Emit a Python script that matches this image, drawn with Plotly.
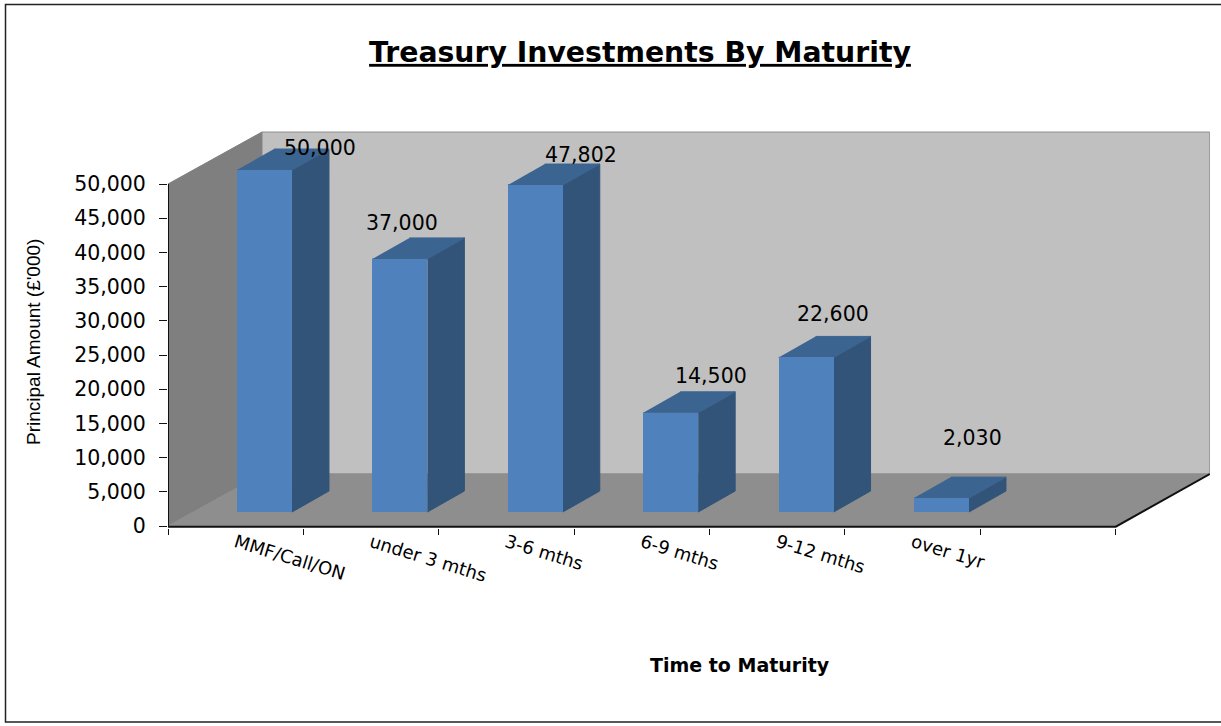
import plotly.graph_objects as go

categories = ["MMF/Call/ON", "under 3 mths", "3-6 mths", "6-9 mths", "9-12 mths", "over 1yr"]
principal = [50000, 37000, 47802, 14500, 22600, 2030]
y_ticks = [0, 5000, 10000, 15000, 20000, 25000, 30000, 35000, 40000, 45000, 50000]

# hand-placed data label offsets (category units / value units)
label_dx = [0.41, 0.015, 0.34, 0.30, 0.20, 0.23]
label_dy = [3150, 5260, 4380, 5410, 6290, 8770]

X_RANGE = [-0.5, 7.196]
Y_RANGE = [-292, 57895]
BAR_W = 0.406
BAR_OFF = 0.01
BAR_BASE = 2047
BAR_DX, BAR_DY = 0.273, 3070
WALL_DX, WALL_DY = 0.694, 7600
WALL_TOP = 50000
LAST = 6.5
FIRST = -0.5

FONT = "DejaVu Sans"
fig = go.Figure()


def poly(xs, ys, color, line=None):
    fig.add_trace(go.Scatter(x=xs, y=ys, mode="lines", fill="toself", fillcolor=color,
                             line=dict(color=line or color, width=1), hoverinfo="skip",
                             showlegend=False, xaxis="x", yaxis="y", cliponaxis=False))


# back wall, left wall, floor
poly([FIRST + WALL_DX, LAST + WALL_DX, LAST + WALL_DX, FIRST + WALL_DX],
     [WALL_DY, WALL_DY, WALL_TOP + WALL_DY, WALL_TOP + WALL_DY], "#C0C0C0", "#8E8E8E")
poly([FIRST, FIRST + WALL_DX, FIRST + WALL_DX, FIRST],
     [0, WALL_DY, WALL_TOP + WALL_DY, WALL_TOP], "#7F7F7F")
poly([FIRST, FIRST + WALL_DX, LAST + WALL_DX, LAST],
     [0, WALL_DY, WALL_DY, 0], "#8E8E8E")

# bar side and top faces, derived from the values
for i, v in enumerate(principal):
    x0 = i + BAR_OFF
    x1 = x0 + BAR_W
    top = BAR_BASE + v
    poly([x1, x1 + BAR_DX, x1 + BAR_DX, x1],
         [BAR_BASE, BAR_BASE + BAR_DY, top + BAR_DY, top], "#325479")
    poly([x0, x1, x1 + BAR_DX, x0 + BAR_DX],
         [top, top, top + BAR_DY, top + BAR_DY], "#3C6491")

# axis lines
fig.add_trace(go.Scatter(x=[FIRST, FIRST], y=[0, WALL_TOP], mode="lines",
                         line=dict(color="#111111", width=2), hoverinfo="skip",
                         showlegend=False, cliponaxis=False))
fig.add_trace(go.Scatter(x=[FIRST, LAST, LAST + WALL_DX], y=[-100, -100, WALL_DY], mode="lines",
                         line=dict(color="#111111", width=2), hoverinfo="skip",
                         showlegend=False, cliponaxis=False))

# bar front faces
fig.add_trace(go.Bar(x=categories + [" "], y=principal + [None], base=BAR_BASE,
                     width=BAR_W, offset=BAR_OFF, marker=dict(color="#4F81BD", line=dict(width=0)),
                     xaxis="x2", yaxis="y", showlegend=False))

annotations = []
for i, v in enumerate(principal):
    annotations.append(dict(x=i + BAR_OFF + BAR_W / 2 + label_dx[i], y=BAR_BASE + v + label_dy[i],
                            xref="x", yref="y", text=f"{v:,}", showarrow=False,
                            xanchor="center", yanchor="middle",
                            font=dict(family=FONT, size=20.5, color="#000000")))
annotations.append(dict(x=(740 - 168) / 1042, y=(528 - 665) / 398, xref="paper", yref="paper",
                        text="<b>Time to Maturity</b>", showarrow=False,
                        xanchor="center", yanchor="middle",
                        font=dict(family=FONT, size=19, color="#000000")))
annotations.append(dict(x=(33 - 168) / 1042, y=(528 - 342) / 398, xref="paper", yref="paper",
                        text="Principal Amount (£'000)", textangle=-90, showarrow=False,
                        xanchor="center", yanchor="middle",
                        font=dict(family="Liberation Sans", size=19, color="#000000")))

fig.update_layout(
    width=1221, height=726, autosize=False,
    margin=dict(l=168, r=11, t=130, b=198),
    paper_bgcolor="#FFFFFF", plot_bgcolor="rgba(0,0,0,0)",
    showlegend=False, bargap=0,
    title=dict(text="<b><u>Treasury Investments By Maturity</u></b>",
               x=640 / 1221, xanchor="center", y=1 - 52 / 726, yanchor="middle",
               font=dict(family=FONT, size=28.3, color="#000000")),
    xaxis=dict(range=X_RANGE, visible=False, showgrid=False, zeroline=False),
    xaxis2=dict(type="category", overlaying="x", side="bottom", anchor="y", range=X_RANGE,
                categoryorder="array", categoryarray=categories + [" "],
                tickson="boundaries", ticks="outside", ticklen=6, tickwidth=1, tickcolor="#111111",
                tickangle=17, showgrid=False, zeroline=False, showline=False,
                tickfont=dict(family=FONT, size=18, color="#000000")),
    yaxis=dict(range=Y_RANGE, tickmode="array", tickvals=y_ticks, tickformat=",",
               ticks="outside", ticklen=8, tickwidth=1, tickcolor="#111111",
               ticklabelstandoff=9,
               showgrid=False, zeroline=False, showline=False,
               tickfont=dict(family=FONT, size=20.5, color="#000000")),
    annotations=annotations,
    shapes=[dict(type="rect", xref="paper", yref="paper",
                 x0=(5.5 - 168) / 1042, x1=(1240 - 168) / 1042,
                 y0=(528 - 722) / 398, y1=(528 - 4.5) / 398,
                 line=dict(color="#222222", width=1.5), layer="below")],
)

fig.write_html("out.html", config=dict(displayModeBar=False),
               post_script="document.body.style.margin='0';document.body.style.overflow='hidden';")
